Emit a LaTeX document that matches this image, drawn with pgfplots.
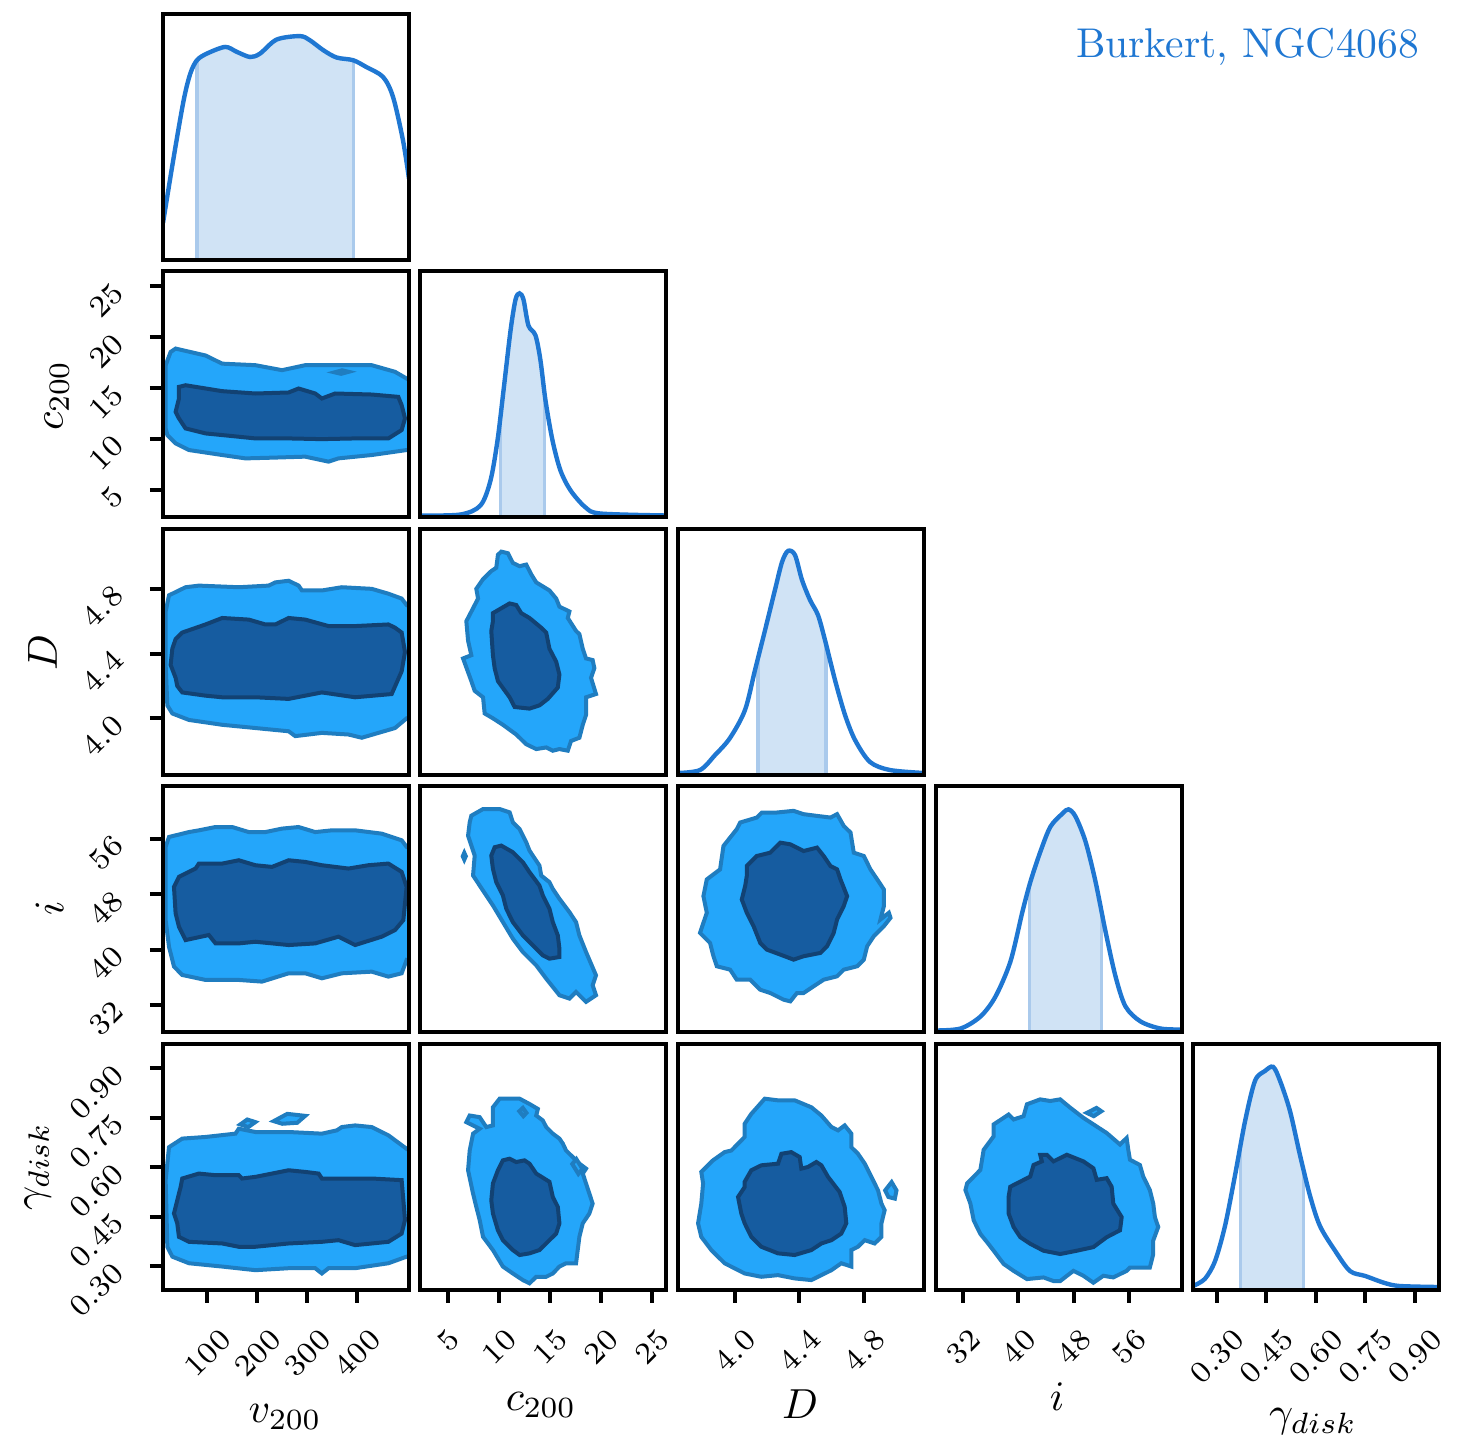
\RequirePackage{fix-cm}
\documentclass[border=0pt]{standalone}
\usepackage{graphicx}
\usepackage{pgfplots}
\pgfplotsset{compat=1.18}
\definecolor{lineblue}{RGB}{31,119,210}
\definecolor{bandfill}{RGB}{208,227,245}
\definecolor{bandedge}{RGB}{170,202,236}
\definecolor{outerfill}{RGB}{36,166,250}
\definecolor{outeredge}{RGB}{31,125,192}
\definecolor{innerfill}{RGB}{22,92,160}
\definecolor{inneredge}{RGB}{18,66,115}
\newcommand{\R}[1]{\rotatebox{45}{$#1$}}
\pgfplotsset{
 cp/.style={width=61.5pt,height=61.5pt,scale only axis,anchor=south west,axis on top,
  axis line style={line width=1pt},tick align=outside,major tick length=3.25pt,
  tick style={line width=1pt,black},xtick pos=left,ytick pos=left,
  xtick=\empty,ytick=\empty,
  tick label style={font=\fontsize{7.6}{9}\selectfont,inner sep=0pt},
  xticklabel style={anchor=north},
  yticklabel style={anchor=north east,yshift=1.5pt},
  xticklabel shift=6pt, yticklabel shift=6pt},
 outer/.style={fill=outerfill,draw=outeredge,line width=1pt},
 inner/.style={fill=innerfill,draw=inneredge,line width=1pt},
 kde/.style={lineblue,line width=1.1pt,smooth},
 band/.style={fill=bandfill,draw=none},
 bedge/.style={bandedge,line width=0.8pt},
 vx/.style={xmin=11,xmax=504},
 cx/.style={xmin=2.3,xmax=26.45},
 dx/.style={xmin=3.65,xmax=5.17},
 ix/.style={xmin=28,xmax=63.6},
 gx/.style={xmin=0.228,xmax=0.974},
 cy/.style={ymin=2.3,ymax=26.45},
 dy/.style={ymin=3.65,ymax=5.17},
 iy/.style={ymin=28,ymax=63.6},
 gy/.style={ymin=0.228,ymax=0.974},
 hy/.style={ymin=0,ymax=1},
 vt/.style={xtick={100,200,300,400},xticklabels={\R{100},\R{200},\R{300},\R{400}}},
 ct/.style={xtick={5,10,15,20,25},xticklabels={\R{5},\R{10},\R{15},\R{20},\R{25}}},
 dt/.style={xtick={4.0,4.4,4.8},xticklabels={\R{4.0},\R{4.4},\R{4.8}}},
 it/.style={xtick={32,40,48,56},xticklabels={\R{32},\R{40},\R{48},\R{56}}},
 gt/.style={xtick={0.30,0.45,0.60,0.75,0.90},xticklabels={\R{0.30},\R{0.45},\R{0.60},\R{0.75},\R{0.90}}},
}
\begin{document}
\begin{tikzpicture}
\useasboundingbox (0,0) rectangle (365pt,363pt);
% ---------- column 0 ----------
\begin{axis}[cp,vx,hy,at={(40.75pt,298pt)}]
\addplot[band] coordinates {(79,0) (79,0.812) (99,0.839) (135.6,0.866) (158.9,0.846) (185.5,0.825) (205.5,0.839) (238.8,0.896) (285.5,0.91) (305.5,0.893) (332.1,0.853) (358.8,0.823) (393,0.811) (393,0)} --cycle;
\addplot[bedge] coordinates {(79,0) (79,0.812)};
\addplot[bedge] coordinates {(393,0) (393,0.811)};
\addplot[kde] coordinates {(11,0.15) (32.3,0.416) (52.3,0.648) (65.6,0.757) (79,0.812) (99,0.839) (135.6,0.866) (158.9,0.846) (185.5,0.825) (205.5,0.839) (238.8,0.896) (285.5,0.91) (305.5,0.893) (332.1,0.853) (358.8,0.823) (392.1,0.812) (418.7,0.784) (452,0.744) (472,0.663) (492,0.486) (504,0.33)};
\end{axis}
\begin{axis}[cp,vx,cy,at={(40.75pt,233.625pt)},ytick={5,10,15,20,25},yticklabels={\R{5},\R{10},\R{15},\R{20},\R{25}}]
\addplot[outer] coordinates {(26.3,18.55) (36.3,18.88) (96.3,18.2) (129.6,17.4) (196.2,17.25) (249.5,16.76) (296.1,17.25) (362.7,17.25) (429.3,17.25) (476,16.6) (499.3,15.94) (512,15.6) (512,9.0) (499.3,8.92) (429.3,8.43) (362.7,8.1) (342.7,7.78) (296.1,8.27) (229.5,8.17) (176.2,8.1) (129.6,8.43) (63,8.92) (36.3,9.57) (19.7,10.39) (16.3,11.05) (16.3,17.25)} --cycle;
\addplot[outer] coordinates {(355,16.55) (370,16.75) (383,16.6) (368,16.4)} --cycle;
\addplot[inner] coordinates {(43,15.12) (56.3,15.28) (129.6,14.7) (196.2,14.47) (262.8,14.57) (282.8,14.96) (316.1,14.47) (329.4,13.98) (356,14.47) (429.3,14.37) (482.6,14.14) (489.3,13.33) (496,12.02) (489.3,10.88) (462.7,10.06) (396,10.06) (329.4,9.99) (262.8,10.06) (196.2,10.06) (129.6,10.39) (96.3,10.55) (56.3,11.04) (43,12.02) (36.3,12.67) (43,13.98)} --cycle;
\end{axis}
\begin{axis}[cp,vx,dy,at={(40.75pt,169.25pt)},ytick={4.0,4.4,4.8},yticklabels={\R{4.0},\R{4.4},\R{4.8}}]
\addplot[outer] coordinates {(23,4.76) (56.3,4.81) (83,4.82) (162.9,4.81) (222.8,4.82) (236.2,4.84) (262.8,4.85) (282.8,4.82) (289.5,4.79) (329.4,4.79) (369.4,4.81) (429.3,4.80) (462.7,4.77) (489.3,4.74) (499.3,4.70) (512,4.68) (512,4.01) (499.3,4.00) (476,3.94) (409.4,3.88) (382.7,3.90) (329.4,3.91) (302.8,3.90) (276.1,3.89) (262.8,3.92) (229.5,3.93) (196.2,3.94) (129.6,3.96) (63,3.99) (29.7,4.03) (19.7,4.08) (16.3,4.33) (16.3,4.66)} --cycle;
\addplot[inner] coordinates {(49.6,4.53) (96.3,4.58) (129.6,4.62) (182.9,4.61) (216.2,4.58) (236.2,4.58) (262.8,4.62) (296.1,4.61) (342.7,4.57) (396,4.57) (462.7,4.58) (476,4.56) (489.3,4.53) (496,4.41) (489.3,4.29) (469.3,4.15) (396,4.13) (329.4,4.16) (262.8,4.12) (196.2,4.13) (129.6,4.13) (96.3,4.14) (49.6,4.16) (39.6,4.20) (36.3,4.25) (26.3,4.33) (29.7,4.43) (36.3,4.49)} --cycle;
\end{axis}
\begin{axis}[cp,vx,iy,at={(40.75pt,104.875pt)},ytick={32,40,48,56},yticklabels={\R{32},\R{40},\R{48},\R{56}}]
\addplot[outer] coordinates {(23,56.29) (63,57.0) (83,57.25) (116.3,57.73) (149.6,57.73) (182.9,57.0) (216.2,57.0) (249.5,57.5) (282.8,57.73) (316.1,57.0) (349.4,57.25) (396,57.25) (449.3,56.77) (489.3,55.81) (499.3,54.85) (512,54.5) (512,38.3) (499.3,38.49) (489.3,36.56) (462.7,36.08) (429.3,36.8) (369.4,36.56) (329.4,35.84) (296.1,36.56) (262.8,36.56) (209.5,35.36) (162.9,35.6) (96.3,35.6) (49.6,36.32) (33,37.53) (23,40.41) (16.3,44.26) (16.3,54.85)} --cycle;
\addplot[inner] coordinates {(43,50.52) (76.3,51.72) (83,52.44) (129.6,52.44) (162.9,52.92) (196.2,52.2) (229.5,51.96) (262.8,52.92) (296.1,52.68) (329.4,52.2) (382.7,51.72) (422.7,52.2) (462.7,52.44) (489.3,51.24) (499.3,49.07) (492.7,44.26) (476,42.82) (449.3,41.86) (396,40.65) (362.7,41.86) (316.1,40.89) (262.8,40.65) (196.2,41.13) (162.9,40.89) (116.3,40.89) (102.9,42.1) (56.3,41.37) (43,43.3) (36.3,45.22) (33,49.07)} --cycle;
\end{axis}
\begin{axis}[cp,vx,gy,vt,at={(40.75pt,40.5pt)},ytick={0.30,0.45,0.60,0.75,0.90},yticklabels={\R{0.30},\R{0.45},\R{0.60},\R{0.75},\R{0.90}}]
\addplot[outer] coordinates {(23,0.661) (49.6,0.687) (96.3,0.692) (156.2,0.702) (162.9,0.717) (196.2,0.707) (262.8,0.707) (329.4,0.702) (359.4,0.712) (369.4,0.722) (396,0.727) (429.3,0.722) (462.7,0.697) (499.3,0.656) (512,0.645) (512,0.33) (499.3,0.329) (462.7,0.309) (396,0.294) (342.7,0.294) (329.4,0.278) (316.1,0.294) (262.8,0.294) (196.2,0.288) (129.6,0.299) (63,0.309) (29.7,0.329) (19.7,0.359) (16.3,0.561)} --cycle;
\addplot[outer] coordinates {(166,0.73) (180,0.745) (196,0.737) (182,0.722)} --cycle;
\addplot[outer] coordinates {(233,0.74) (260,0.762) (296,0.756) (280,0.735) (250,0.732)} --cycle;
\addplot[inner] coordinates {(49.6,0.566) (83,0.581) (116.3,0.576) (162.9,0.576) (169.5,0.566) (196.2,0.571) (229.5,0.581) (262.8,0.591) (296.1,0.586) (322.8,0.581) (329.4,0.566) (362.7,0.566) (429.3,0.566) (489.3,0.561) (492.7,0.500) (496,0.440) (489.3,0.399) (462.7,0.374) (396,0.364) (362.7,0.379) (329.4,0.374) (262.8,0.369) (196.2,0.359) (162.9,0.359) (129.6,0.369) (63,0.374) (43,0.389) (39.6,0.430) (33,0.460) (39.6,0.500) (46.3,0.540)} --cycle;
\end{axis}
% ---------- column 1 ----------
\begin{axis}[cp,cx,hy,at={(105.125pt,233.625pt)}]
\addplot[band] coordinates {(10.15,0) (10.15,0.41) (10.45,0.516) (11.14,0.76) (11.63,0.886) (12.02,0.911) (12.41,0.886) (12.9,0.78) (13.59,0.74) (14.08,0.638) (14.47,0.51) (14.47,0)} --cycle;
\addplot[bedge] coordinates {(10.15,0) (10.15,0.41)};
\addplot[bedge] coordinates {(14.47,0) (14.47,0.51)};
\addplot[kde] coordinates {(2.3,0.008) (6.23,0.012) (8.19,0.049) (9.17,0.15) (9.86,0.313) (10.45,0.516) (11.14,0.76) (11.63,0.886) (12.02,0.911) (12.41,0.886) (12.9,0.78) (13.59,0.74) (14.08,0.638) (14.57,0.476) (15.26,0.313) (16.04,0.191) (17.03,0.11) (18.5,0.041) (19.97,0.016) (26.45,0.008)};
\end{axis}
\begin{axis}[cp,cx,dy,at={(105.125pt,169.25pt)}]
\addplot[outer] coordinates {(10.23,5.03) (10.88,5.02) (11.37,4.96) (12.03,4.94) (12.68,4.95) (13.17,4.89) (13.66,4.84) (14.96,4.79) (15.62,4.74) (15.94,4.69) (16.92,4.66) (16.76,4.62) (17.57,4.54) (17.9,4.52) (18.23,4.43) (18.55,4.37) (19.2,4.36) (19.37,4.31) (19.04,4.25) (19.53,4.15) (18.55,4.13) (18.55,4.02) (18.23,3.96) (17.9,3.88) (17.08,3.86) (16.76,3.80) (15.94,3.81) (15.29,3.80) (14.64,3.82) (13.66,3.81) (12.68,3.84) (11.7,3.90) (10.39,3.96) (9.41,4.00) (8.6,4.03) (8.44,4.13) (7.62,4.17) (7.29,4.23) (6.48,4.37) (7.29,4.39) (6.97,4.48) (6.8,4.60) (7.46,4.68) (7.95,4.74) (7.78,4.80) (8.44,4.86) (9.25,4.91) (9.74,4.93) (9.9,5.01)} --cycle;
\addplot[inner] coordinates {(9.41,4.65) (11.05,4.71) (11.7,4.70) (12.19,4.65) (13.0,4.62) (14.15,4.56) (14.64,4.53) (14.96,4.43) (15.62,4.35) (15.94,4.27) (15.78,4.19) (14.8,4.12) (13.98,4.08) (13.0,4.06) (11.54,4.07) (11.05,4.13) (9.9,4.23) (9.58,4.31) (9.41,4.39) (9.25,4.54) (9.41,4.60)} --cycle;
\end{axis}
\begin{axis}[cp,cx,iy,at={(105.125pt,104.875pt)}]
\addplot[outer] coordinates {(7.29,59.37) (8.44,60.33) (10.07,60.33) (11.05,59.85) (11.37,58.41) (12.03,57.44) (12.68,55.52) (13.0,54.32) (13.98,52.15) (14.15,50.71) (14.96,49.75) (15.29,48.78) (15.94,47.34) (16.92,45.42) (17.57,43.97) (17.9,42.05) (18.55,39.64) (19.53,36.27) (19.2,34.83) (19.53,33.39) (18.55,32.43) (17.57,33.87) (16.92,32.91) (15.94,33.39) (14.64,35.79) (13.66,37.72) (12.35,39.64) (11.37,41.57) (10.39,43.97) (9.41,46.38) (8.11,49.26) (7.46,50.71) (7.62,53.59) (6.97,56.48) (7.13,58.41)} --cycle;
\addplot[outer] coordinates {(6.6,54.0) (6.75,53.5) (6.6,53.0) (6.45,53.5)} --cycle;
\addplot[inner] coordinates {(9.58,54.8) (10.23,55.04) (11.37,54.08) (12.35,52.63) (13.0,51.19) (13.98,49.26) (14.31,47.82) (14.96,45.9) (15.29,43.97) (15.78,42.05) (15.94,40.12) (15.94,38.92) (14.96,38.68) (14.31,39.16) (13.33,40.6) (12.35,42.05) (11.37,43.97) (10.72,45.9) (10.39,47.82) (9.74,49.75) (9.41,51.67) (9.25,53.59)} --cycle;
\end{axis}
\begin{axis}[cp,cx,gy,ct,at={(105.125pt,40.5pt)}]
\addplot[outer] coordinates {(6.8,0.737) (7.13,0.757) (8.11,0.752) (8.76,0.722) (9.41,0.727) (9.41,0.782) (10.07,0.808) (11.05,0.808) (12.03,0.808) (13.0,0.792) (13.82,0.777) (13.66,0.757) (14.31,0.742) (14.64,0.722) (15.29,0.702) (15.94,0.687) (16.27,0.672) (16.59,0.651) (17.25,0.631) (17.9,0.611) (18.55,0.596) (18.23,0.581) (18.55,0.551) (19.2,0.490) (18.88,0.460) (18.23,0.430) (17.9,0.389) (17.57,0.309) (16.59,0.309) (15.94,0.299) (15.29,0.278) (14.64,0.268) (13.66,0.268) (13.0,0.248) (12.35,0.258) (11.37,0.278) (10.39,0.299) (9.41,0.349) (8.44,0.389) (8.11,0.440) (7.78,0.480) (7.46,0.520) (6.97,0.591) (7.13,0.651) (7.46,0.702) (8.11,0.717)} --cycle;
\addplot[outer] coordinates {(12.0,0.77) (12.4,0.755) (12.7,0.765) (12.35,0.78)} --cycle;
\addplot[outer] coordinates {(17.2,0.61) (17.6,0.625) (18.2,0.595) (17.8,0.58)} --cycle;
\addplot[inner] coordinates {(10.39,0.621) (11.05,0.626) (11.7,0.616) (12.51,0.621) (13.0,0.611) (13.66,0.581) (14.96,0.556) (15.29,0.510) (15.78,0.480) (15.94,0.430) (15.62,0.399) (14.96,0.379) (13.98,0.349) (13.0,0.339) (12.03,0.334) (11.37,0.349) (10.39,0.379) (9.9,0.409) (9.41,0.460) (9.25,0.500) (9.41,0.551) (9.9,0.591)} --cycle;
\end{axis}
% ---------- column 2 ----------
\begin{axis}[cp,dx,hy,at={(169.5pt,169.25pt)}]
\addplot[band] coordinates {(4.144,0) (4.144,0.474) (4.188,0.589) (4.249,0.752) (4.293,0.866) (4.33,0.911) (4.373,0.894) (4.416,0.793) (4.466,0.711) (4.515,0.65) (4.558,0.549) (4.564,0.533) (4.564,0)} --cycle;
\addplot[bedge] coordinates {(4.144,0) (4.144,0.474)};
\addplot[bedge] coordinates {(4.564,0) (4.564,0.533)};
\addplot[kde] coordinates {(3.65,0.008) (3.786,0.02) (3.879,0.081) (3.971,0.15) (4.064,0.264) (4.126,0.427) (4.188,0.589) (4.249,0.752) (4.293,0.866) (4.33,0.911) (4.373,0.894) (4.416,0.793) (4.466,0.711) (4.515,0.65) (4.558,0.549) (4.62,0.386) (4.682,0.244) (4.744,0.142) (4.836,0.053) (4.96,0.02) (5.17,0.008)};
\end{axis}
\begin{axis}[cp,dx,iy,at={(169.5pt,104.875pt)}]
\addplot[outer] coordinates {(3.828,50.15) (3.91,51.6) (3.931,54.99) (4.013,57.41) (4.034,58.38) (4.137,59.1) (4.168,59.83) (4.261,59.83) (4.364,60.07) (4.426,59.59) (4.509,59.34) (4.592,59.1) (4.633,59.59) (4.674,57.89) (4.716,56.93) (4.736,54.02) (4.798,53.54) (4.839,51.6) (4.881,50.15) (4.922,48.7) (4.922,46.28) (4.901,44.35) (4.953,45.32) (4.963,44.59) (4.922,43.38) (4.86,41.93) (4.819,40.48) (4.798,38.54) (4.757,37.58) (4.674,37.09) (4.633,36.13) (4.55,35.64) (4.488,34.68) (4.426,33.71) (4.385,33.71) (4.344,32.5) (4.303,32.74) (4.22,33.71) (4.158,34.19) (4.096,35.64) (4.013,35.64) (3.972,37.09) (3.89,37.58) (3.869,39.03) (3.848,40.96) (3.786,42.41) (3.807,43.87) (3.828,45.32) (3.807,47.73)} --cycle;
\addplot[inner] coordinates {(4.075,52.09) (4.137,53.54) (4.22,54.02) (4.282,55.47) (4.344,55.23) (4.426,54.26) (4.509,54.75) (4.55,53.54) (4.592,52.09) (4.633,51.6) (4.654,50.15) (4.695,47.73) (4.674,46.28) (4.633,44.35) (4.612,42.41) (4.571,40.48) (4.53,39.51) (4.426,39.03) (4.364,38.54) (4.282,39.27) (4.199,39.99) (4.158,40.96) (4.117,43.38) (4.075,45.32) (4.044,47.25) (4.065,49.19) (4.075,50.64)} --cycle;
\end{axis}
\begin{axis}[cp,dx,gy,dt,at={(169.5pt,40.5pt)}]
\addplot[outer] coordinates {(3.794,0.586) (3.866,0.621) (3.938,0.646) (3.98,0.651) (4.062,0.692) (4.062,0.732) (4.103,0.762) (4.186,0.808) (4.268,0.803) (4.371,0.803) (4.474,0.782) (4.536,0.757) (4.598,0.722) (4.639,0.712) (4.68,0.727) (4.721,0.702) (4.721,0.661) (4.762,0.641) (4.804,0.611) (4.845,0.571) (4.886,0.530) (4.907,0.490) (4.927,0.470) (4.907,0.430) (4.907,0.389) (4.865,0.369) (4.804,0.379) (4.762,0.359) (4.721,0.349) (4.721,0.299) (4.659,0.309) (4.598,0.288) (4.536,0.273) (4.474,0.258) (4.371,0.263) (4.268,0.273) (4.165,0.268) (4.062,0.278) (3.938,0.309) (3.856,0.349) (3.794,0.389) (3.774,0.430) (3.794,0.490) (3.805,0.551)} --cycle;
\addplot[outer] coordinates {(4.93,0.53) (4.97,0.555) (5.0,0.53) (4.99,0.505) (4.95,0.51)} --cycle;
\addplot[inner] coordinates {(4.062,0.556) (4.103,0.591) (4.165,0.606) (4.268,0.611) (4.289,0.641) (4.35,0.646) (4.402,0.631) (4.412,0.596) (4.453,0.601) (4.505,0.616) (4.536,0.606) (4.577,0.571) (4.649,0.525) (4.68,0.480) (4.69,0.430) (4.659,0.399) (4.598,0.379) (4.536,0.369) (4.474,0.349) (4.371,0.334) (4.268,0.339) (4.165,0.359) (4.103,0.389) (4.062,0.430) (4.041,0.460) (4.021,0.510) (4.062,0.540)} --cycle;
\end{axis}
% ---------- column 3 ----------
\begin{axis}[cp,ix,hy,at={(233.875pt,104.875pt)}]
\addplot[band] coordinates {(41.6,0) (41.6,0.6) (41.75,0.614) (43.19,0.736) (44.64,0.837) (46.38,0.89) (47.25,0.907) (48.26,0.878) (49.71,0.776) (51.15,0.614) (52.0,0.495) (52.0,0)} --cycle;
\addplot[bedge] coordinates {(41.6,0) (41.6,0.6)};
\addplot[bedge] coordinates {(52.0,0) (52.0,0.495)};
\addplot[kde] coordinates {(28,0.008) (31.62,0.016) (34.51,0.065) (36.68,0.146) (38.85,0.289) (40.59,0.492) (41.75,0.614) (43.19,0.736) (44.64,0.837) (46.38,0.89) (47.25,0.907) (48.26,0.878) (49.71,0.776) (51.15,0.614) (52.6,0.411) (54.05,0.228) (55.49,0.106) (57.66,0.045) (60.56,0.016) (63.6,0.012)};
\end{axis}
\begin{axis}[cp,ix,gy,it,at={(233.875pt,40.5pt)}]
\addplot[outer] coordinates {(32.57,0.551) (34.49,0.592) (34.97,0.653) (36.42,0.694) (36.42,0.730) (38.58,0.760) (39.3,0.745) (40.75,0.755) (41.23,0.791) (43.15,0.806) (44.6,0.801) (46.04,0.806) (47.48,0.781) (49.4,0.750) (52.77,0.704) (54.7,0.669) (55.66,0.689) (55.9,0.653) (56.14,0.623) (57.58,0.607) (58.06,0.572) (59.02,0.531) (59.51,0.490) (59.75,0.449) (60.23,0.419) (59.51,0.378) (59.51,0.337) (59.02,0.296) (56.14,0.296) (55.66,0.286) (53.73,0.266) (52.29,0.271) (50.85,0.250) (49.4,0.271) (47.96,0.286) (46.04,0.255) (45.08,0.255) (43.63,0.266) (41.23,0.261) (39.3,0.286) (37.86,0.307) (36.42,0.347) (35.46,0.373) (34.49,0.398) (33.53,0.439) (33.05,0.490) (32.33,0.531)} --cycle;
\addplot[outer] coordinates {(49.9,0.765) (51.3,0.78) (52.0,0.77) (50.9,0.755)} --cycle;
\addplot[inner] coordinates {(38.82,0.541) (41.71,0.572) (42.19,0.607) (43.39,0.618) (43.15,0.638) (44.11,0.638) (45.08,0.618) (47.0,0.638) (49.4,0.618) (50.85,0.597) (51.33,0.562) (52.77,0.567) (53.49,0.541) (53.73,0.490) (54.94,0.449) (54.7,0.409) (52.77,0.388) (50.85,0.358) (48.44,0.347) (46.04,0.337) (43.63,0.347) (41.71,0.368) (40.27,0.388) (39.3,0.419) (38.58,0.460) (38.58,0.510)} --cycle;
\end{axis}
% ---------- column 4 ----------
\begin{axis}[cp,gx,hy,gt,at={(298.25pt,40.5pt)}]
\addplot[band] coordinates {(0.371,0) (0.371,0.578) (0.386,0.687) (0.416,0.85) (0.446,0.89) (0.471,0.907) (0.492,0.85) (0.522,0.728) (0.553,0.545) (0.562,0.496) (0.562,0)} --cycle;
\addplot[bedge] coordinates {(0.371,0) (0.371,0.578)};
\addplot[bedge] coordinates {(0.562,0) (0.562,0.496)};
\addplot[kde] coordinates {(0.228,0.016) (0.264,0.045) (0.295,0.118) (0.325,0.26) (0.355,0.463) (0.386,0.687) (0.416,0.85) (0.446,0.89) (0.471,0.907) (0.492,0.85) (0.522,0.728) (0.553,0.545) (0.583,0.382) (0.613,0.26) (0.659,0.159) (0.704,0.077) (0.75,0.057) (0.81,0.028) (0.856,0.016) (0.971,0.012)};
\end{axis}
% ---------- labels ----------
\begin{scope}[font=\fontsize{10.5}{12}\selectfont]
\node at (71.25pt,8.75pt) {$v_{200}$};
\node at (135.25pt,11.75pt) {$c_{200}$};
\node at (200pt,12pt) {$D$};
\node at (264.25pt,13.75pt) {$i$};
\node at (328.25pt,7.5pt) {$\gamma_{disk}$};
\node[rotate=90] at (14.2pt,264.1pt) {$c_{200}$};
\node[rotate=90] at (10.6pt,199.9pt) {$D$};
\node[rotate=90] at (12.4pt,136pt) {$i$};
\node[rotate=90] at (9.4pt,71.4pt) {$\gamma_{disk}$};
\end{scope}
\node[anchor=east,text=lineblue,font=\fontsize{10.4}{12}\selectfont,inner sep=0pt] at (355pt,351.25pt) {Burkert, NGC4068};
\end{tikzpicture}
\end{document}
